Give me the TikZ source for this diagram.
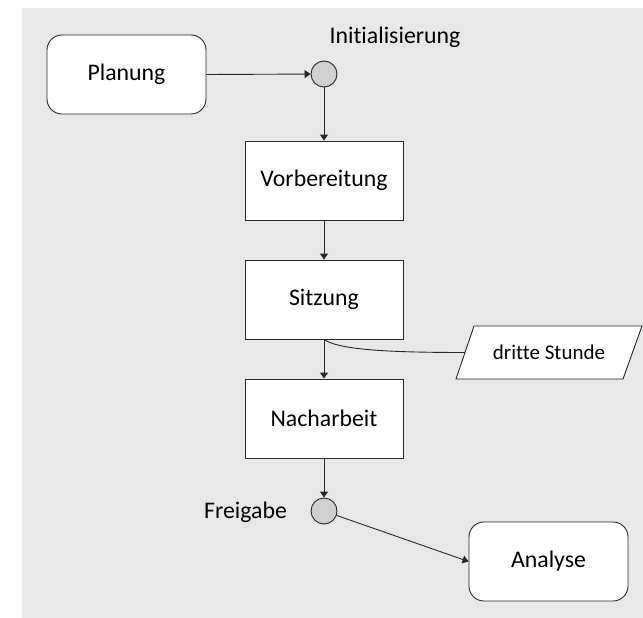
\documentclass[tikz,border=0pt]{standalone}
\usepackage{fontspec}
\setmainfont{Carlito}[Ligatures={NoCommon,NoContextual}]
\usetikzlibrary{arrows.meta}

\definecolor{panel}{RGB}{232,232,232}
\definecolor{eventfill}{RGB}{208,208,208}
\definecolor{edge}{RGB}{40,40,40}

\tikzset{
  lbl/.style={font=\fontsize{23.8}{28}\selectfont, inner sep=0pt},
  roundbox/.style={draw=edge, fill=white, line width=0.9pt, rounded corners=15pt,
    minimum width=159pt, minimum height=79pt, lbl},
  taskbox/.style={draw=edge, fill=white, line width=0.9pt,
    minimum width=158pt, minimum height=79pt, lbl},
  event/.style={circle, draw=edge, fill=eventfill, line width=0.9pt,
    minimum size=26pt, inner sep=0pt},
  datashape/.style={draw=edge, fill=white, line width=0.9pt},
  datatext/.style={inner sep=0pt, font=\fontsize{21}{25}\selectfont},
  flow/.style={draw=edge, line width=0.9pt, -{Triangle[width=8pt,length=6pt]}},
  link/.style={draw=edge, line width=0.9pt}
}

\begin{document}
\begin{tikzpicture}[x=1pt, y=-1pt]
  % page and grey panel
  \useasboundingbox (0,0) rectangle (643,618);
  \fill[white] (0,0) rectangle (643,618);
  \fill[panel] (22,8) rectangle (643,618);

  % process steps
  \node[roundbox] (plan) at (126.5,74.5) {Planung};
  \node[event] (init) at (324,74) {};
  \node[lbl] (initlbl) at (395,37) {Initialisierung};
  \node[taskbox] (vorb) at (324,180.5) {Vorbereitung};
  \node[taskbox] (sitz) at (324,299.5) {Sitzung};
  \node[taskbox] (nach) at (324,418.5) {Nacharbeit};
  \node[event] (frei) at (324,511) {};
  \node[lbl] (freilbl) at (245.5,512) {Freigabe};
  \node[roundbox] (anal) at (548.5,561.5) {Analyse};

  % data object: parallelogram with its text
  \draw[datashape] (456,379) -- (474,326) -- (642,326) -- (623,379) -- cycle;
  \node[datatext] (dritte) at (549,352.5) {dritte Stunde};
  \coordinate (dritteIn) at (465,352.5);

  % connectors
  \draw[flow] (plan.east) -- (init);
  \draw[flow] (init) -- (vorb.north);
  \draw[flow] (vorb.south) -- (sitz.north);
  \draw[flow] (sitz.south) -- (nach.north);
  \draw[flow] (nach.south) -- (frei);
  \draw[flow] (frei) -- (anal.west);
  \draw[link] (sitz.south) .. controls (338,349) and (380,352.5) .. (dritteIn);
\end{tikzpicture}
\end{document}
